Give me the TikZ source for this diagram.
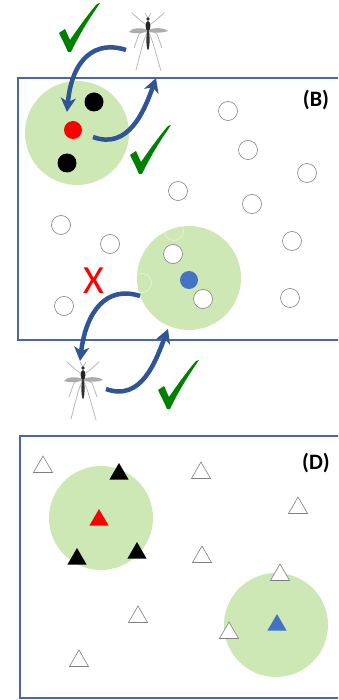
\documentclass[tikz,border=0pt]{standalone}
\usepackage{fontspec}
\setmainfont{Carlito}
\usetikzlibrary{arrows.meta,shapes.geometric}

\definecolor{zonefill}{RGB}{206,232,181}
\definecolor{framecol}{RGB}{72,104,170}
\definecolor{flowcol}{RGB}{47,85,151}
\definecolor{okgreen}{RGB}{0,128,0}
\definecolor{hostblue}{RGB}{68,114,196}
\definecolor{ringcol}{RGB}{128,128,128}

\tikzset{
  panel/.style={draw=framecol, line width=1.2pt},
  zone/.style={circle, fill=zonefill, minimum width=104pt, minimum height=100pt, inner sep=0pt},
  host/.style={circle, draw=ringcol, line width=0.6pt, fill=white, minimum size=19pt, inner sep=0pt},
  ghost/.style={circle, draw=white, draw opacity=0.55, line width=0.6pt, minimum size=19pt, inner sep=0pt},
  dot/.style={circle, minimum size=19pt, inner sep=0pt},
  tri/.style={regular polygon, regular polygon sides=3, minimum size=22pt, inner sep=0pt},
  trihost/.style={tri, draw=ringcol, line width=0.6pt, fill=white},
  trifill/.style={tri},
  flow/.style={draw=flowcol, line width=4.5pt, -{Stealth[length=14pt,width=15pt,inset=4pt]}},
  tag/.style={font=\bfseries\fontsize{22}{24}\selectfont, inner sep=0pt},
  mosquito/.pic={
    % legs
    \draw[gray!55, line width=0.8pt, line cap=round, line join=round]
      (0,-7) -- (-7,-12) -- (-16,-20)
      (0,-7) -- (7,-12) -- (16,-20)
      (0,-4) -- (-9,1) -- (-14,15)
      (0,-4) -- (9,1) -- (14,15)
      (0,-3) -- (-5,10) -- (-12,37)
      (0,-3) -- (5,10) -- (13,38);
    % antennae
    \draw[gray!70, line width=0.6pt, line cap=round]
      (0,-15) -- (-3,-20)  (0,-15) -- (3,-20);
    % wings
    \fill[gray!65] (-1,-3) .. controls (-6,-6) and (-17,-5) .. (-19,-1)
      .. controls (-15,1) and (-6,0) .. (-1,-1) -- cycle;
    \fill[gray!65] (1,-3) .. controls (6,-6) and (17,-5) .. (20,-2)
      .. controls (16,0) and (6,0) .. (1,-1) -- cycle;
    % body
    \fill[black!80] (0,-14) circle (1.8);
    \fill[black!85] (0,-7) ellipse (2.4 and 5);
    \fill[black!80] (0,7) ellipse (1.6 and 10);
  },
  tick/.pic={
    \fill[okgreen] (0,30) -- (6,26) .. controls (8,30) and (9,33) .. (11,37)
      .. controls (20,24) and (30,10) .. (38,1) -- (41,0)
      .. controls (30,16) and (20,32) .. (12,49) -- (9,49)
      .. controls (6,42) and (3,36) .. (0,30) -- cycle;
  }
}

\begin{document}
\begin{tikzpicture}[x=1pt,y=-1pt]
  \clip (0,0) rectangle (338,700);
  \fill[white] (0,0) rectangle (338,700);

  % ---------- panel (B): circles ----------
  \draw[panel] (18,78) rectangle (350,340);
  \node[zone] (zoneR) at (77,133) {};
  \node[zone] (zoneB) at (189,278) {};

  \node[ghost] (g1) at (174,231) {};
  \node[ghost] (g2) at (142,283) {};

  \foreach \p/\n in {(228,111)/h1,(248,150)/h2,(307,173)/h3,(178,191)/h4,
                     (252,204)/h5,(61,225)/h6,(110,244)/h7,(292,241)/h8,
                     (64,306)/h9,(290,298)/h10,(173,254)/h11,(203,299)/h12}
    \node[host] (\n) at \p {};

  \node[dot, fill=black] (k1) at (94,102) {};
  \node[dot, fill=black] (k2) at (67,163) {};
  \node[dot, fill=red, minimum size=18pt] (src) at (73,130) {};
  \node[dot, fill=hostblue, minimum size=18pt] (tgt) at (189,280) {};

  \node[tag] (labB) at (316,100) {(B)};

  % vectors and transmission arrows
  \pic (mosqA) at (148,33) {mosquito};
  \pic (mosqB) at (83,382) {mosquito};

  \coordinate (a1s) at (126,50);
  \coordinate (a1e) at (67,112);
  \coordinate (a2s) at (93,137);
  \coordinate (a2e) at (156,78);
  \coordinate (a3s) at (140,296);
  \coordinate (a3e) at (80,361);
  \coordinate (a4s) at (106,389);
  \coordinate (a4e) at (168,329);

  \draw[flow] (a1s) .. controls (96,40) and (72,58) .. (a1e);
  \draw[flow] (a2s) .. controls (128,150) and (144,112) .. (a2e);
  \draw[flow] (a3s) .. controls (106,285) and (86,312) .. (a3e);
  \draw[flow] (a4s) .. controls (142,402) and (156,360) .. (a4e);

  \pic (ok1) at (59,3) {tick};
  \pic (ok2) at (130,125) {tick};
  \pic (ok3) at (158,360) {tick};
  \node[text=red, font=\fontsize{40}{40}\selectfont, inner sep=0pt] (no) at (94,281) {X};

  % ---------- panel (D): triangles ----------
  \draw[panel] (20,436) rectangle (350,698);
  \node[zone] (zoneR2) at (101,518) {};
  \node[zone] (zoneB2) at (276,625) {};

  \foreach \p/\n in {(43,467)/t1,(201,473)/t2,(298,508)/t3,(202,557)/t4,
                     (280,575)/t5,(138,617)/t6,(229,633)/t7,(79,661)/t8}
    \node[trihost] (\n) at \p {};

  \node[trifill, fill=black] (b1) at (119,474) {};
  \node[trifill, fill=black] (b2) at (77,559) {};
  \node[trifill, fill=black] (b3) at (137,553) {};
  \node[trifill, fill=red] (src2) at (99,520) {};
  \node[trifill, fill=hostblue] (tgt2) at (277,625) {};

  \node[tag] (labD) at (316,463) {(D)};
\end{tikzpicture}
\end{document}
